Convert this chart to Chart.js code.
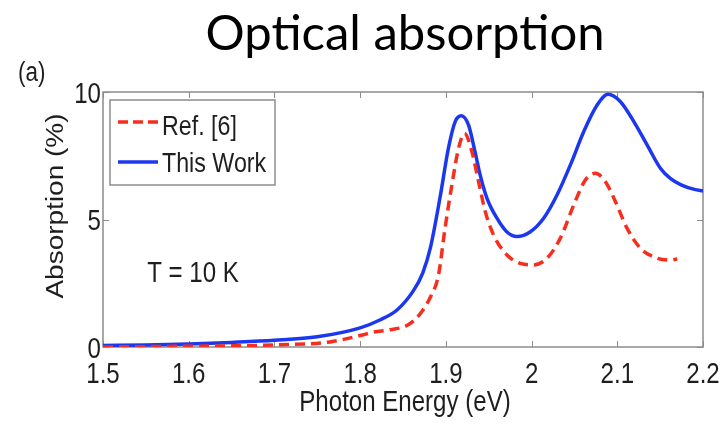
<!DOCTYPE html>
<html>
<head>
<meta charset="utf-8">
<script src="https://cdn.jsdelivr.net/npm/chart.js@4"></script>
<style>
  body { margin: 0; background: #fff; }
  #wrap { width: 724px; height: 424px; }
</style>
</head>
<body>
<div id="wrap"><canvas id="absorptionChart" width="724" height="424"></canvas></div>
<script>
// Photon energy (eV) and absorption (%) for both curves
const energyRef = [1.5, 1.6, 1.7, 1.765, 1.8, 1.815, 1.835, 1.855, 1.87, 1.882, 1.8914, 1.899, 1.907, 1.9148, 1.9218, 1.9304, 1.9382, 1.946, 1.9557, 1.9713, 1.9869, 2.0025, 2.018, 2.0336, 2.0492, 2.0628, 2.0745, 2.0862, 2.0979, 2.1115, 2.1271, 2.1466, 2.1602, 2.17];
const absorptionRef = [0.0, 0.03, 0.08, 0.2, 0.45, 0.58, 0.68, 0.85, 1.3, 1.96, 2.82, 4.65, 6.35, 7.79, 8.38, 7.66, 6.48, 5.31, 4.39, 3.61, 3.28, 3.22, 3.48, 4.27, 5.57, 6.55, 6.81, 6.48, 5.7, 4.65, 3.87, 3.48, 3.41, 3.45];

const energyWork = [1.5, 1.55, 1.6, 1.65, 1.7, 1.75, 1.8, 1.823, 1.843, 1.862, 1.873, 1.882, 1.8934, 1.903, 1.911, 1.918, 1.9265, 1.934, 1.94, 1.948, 1.9596, 1.971, 1.983, 1.9986, 2.0141, 2.0297, 2.0453, 2.0609, 2.0765, 2.0893, 2.1037, 2.1193, 2.1349, 2.1505, 2.1622, 2.175, 2.19, 2.2];
const absorptionWork = [0.06, 0.08, 0.12, 0.18, 0.26, 0.4, 0.75, 1.06, 1.45, 2.2, 2.9, 3.9, 5.9, 7.8, 8.85, 9.07, 8.7, 7.66, 6.75, 5.83, 5.05, 4.52, 4.33, 4.52, 5.05, 5.96, 7.14, 8.45, 9.49, 9.91, 9.62, 8.84, 7.92, 7.0, 6.6, 6.35, 6.18, 6.12];

const seriesNames = ["Ref. [6]", "This Work"];
const xTicks = [1.5, 1.6, 1.7, 1.8, 1.9, 2.0, 2.1, 2.2];
const xTickLabels = ["1.5", "1.6", "1.7", "1.8", "1.9", "2", "2.1", "2.2"];
const yTicks = [0, 5, 10];
const yTickLabels = ["0", "5", "10"];

const FONT = '"Liberation Sans", Arial, sans-serif';
const SQUEEZE = 0.83; // narrow lettering of the figure text
const RED = "#f72d1e";
const BLUE = "#1b38f0";
const AXIS = "#8c8c8c";
const INK = "#1e1e1e";

function narrowText(ctx, text, x, y, align, size, angle) {
  ctx.save();
  ctx.translate(x, y);
  if (angle) ctx.rotate(angle);
  ctx.scale(angle ? 1 : SQUEEZE, angle ? SQUEEZE : 1);
  ctx.font = size + "px " + FONT;
  ctx.textAlign = align;
  ctx.textBaseline = "alphabetic";
  ctx.fillStyle = INK;
  ctx.fillText(text, 0, 0);
  ctx.restore();
}

// frame, inward ticks, tick labels, axis titles, legend and notes
const decorPlugin = {
  id: "decor",
  beforeDatasetsDraw(chart) {
    const { ctx, chartArea: a, scales } = chart;
    ctx.save();
    ctx.strokeStyle = AXIS;
    ctx.lineWidth = 1.5;
    ctx.strokeRect(a.left, a.top, a.right - a.left, a.bottom - a.top);
    ctx.beginPath();
    xTicks.forEach((v) => {
      const px = Math.round(scales.x.getPixelForValue(v)) + 0.5;
      ctx.moveTo(px, a.bottom);
      ctx.lineTo(px, a.bottom - 6);
      ctx.moveTo(px, a.top);
      ctx.lineTo(px, a.top + 6);
    });
    yTicks.forEach((v) => {
      const py = Math.round(scales.y.getPixelForValue(v)) + 0.5;
      ctx.moveTo(a.left, py);
      ctx.lineTo(a.left + 6, py);
      ctx.moveTo(a.right, py);
      ctx.lineTo(a.right - 6, py);
    });
    ctx.lineWidth = 1;
    ctx.stroke();
    ctx.restore();
  },
  afterDraw(chart) {
    const { ctx, chartArea: a, scales } = chart;
    ctx.save();

    // tick labels
    xTicks.forEach((v, i) => {
      narrowText(ctx, xTickLabels[i], scales.x.getPixelForValue(v), a.bottom + 36, "center", 29);
    });
    yTicks.forEach((v, i) => {
      narrowText(ctx, yTickLabels[i], a.left - 2, scales.y.getPixelForValue(v) + 10.5, "right", 29);
    });

    // axis titles
    narrowText(ctx, "Photon Energy (eV)", 405, 411, "center", 29);
    narrowText(ctx, "Absorption (%)", 63, 206, "center", 28, -Math.PI / 2);

    // page title and panel tag
    ctx.fillStyle = "#000";
    ctx.font = '49px Lato, "Open Sans", sans-serif';
    ctx.textAlign = "center";
    ctx.textBaseline = "alphabetic";
    ctx.fillText("Optical absorption", 405, 50);
    narrowText(ctx, "(a)", 18, 81, "left", 27);

    // temperature note
    narrowText(ctx, "T = 10 K", scales.x.getPixelForValue(1.5515), 282, "left", 29);

    // legend
    const lx = 110, ly = 100, lw = 165, lh = 85;
    ctx.fillStyle = "#fff";
    ctx.fillRect(lx, ly, lw, lh);
    ctx.strokeStyle = AXIS;
    ctx.lineWidth = 1.5;
    ctx.strokeRect(lx, ly, lw, lh);
    const rows = [
      { color: RED, dash: [10, 5], y: 122, base: 135 },
      { color: BLUE, dash: [], y: 162, base: 172 },
    ];
    rows.forEach((r, i) => {
      ctx.beginPath();
      ctx.setLineDash(r.dash);
      ctx.strokeStyle = r.color;
      ctx.lineWidth = 3.5;
      ctx.moveTo(118, r.y);
      ctx.lineTo(158, r.y);
      ctx.stroke();
      ctx.setLineDash([]);
      narrowText(ctx, seriesNames[i], 162, r.base, "left", 28);
    });
    ctx.restore();
  },
};

new Chart(document.getElementById("absorptionChart"), {
  type: "line",
  data: {
    datasets: [
      {
        label: seriesNames[0],
        data: energyRef.map((e, i) => ({ x: e, y: absorptionRef[i] })),
        borderColor: RED,
        borderWidth: 3.5,
        borderDash: [10, 6],
        pointRadius: 0,
        cubicInterpolationMode: "monotone",
      },
      {
        label: seriesNames[1],
        data: energyWork.map((e, i) => ({ x: e, y: absorptionWork[i] })),
        borderColor: BLUE,
        borderWidth: 3.5,
        pointRadius: 0,
        cubicInterpolationMode: "monotone",
      },
    ],
  },
  options: {
    responsive: false,
    animation: false,
    devicePixelRatio: 1,
    layout: { padding: { top: 92, right: 21, left: 0, bottom: 0 } },
    plugins: {
      legend: { display: false },
      tooltip: { enabled: false },
    },
    scales: {
      x: {
        type: "linear",
        min: 1.5,
        max: 2.2,
        afterBuildTicks: (s) => { s.ticks = xTicks.map((v) => ({ value: v })); },
        afterFit: (s) => { s.height = 77; },
        grid: { display: false },
        border: { display: false },
        ticks: { display: false },
      },
      y: {
        min: 0,
        max: 10,
        afterBuildTicks: (s) => { s.ticks = yTicks.map((v) => ({ value: v })); },
        afterFit: (s) => { s.width = 103; },
        grid: { display: false },
        border: { display: false },
        ticks: { display: false },
      },
    },
  },
  plugins: [decorPlugin],
});
</script>
</body>
</html>
